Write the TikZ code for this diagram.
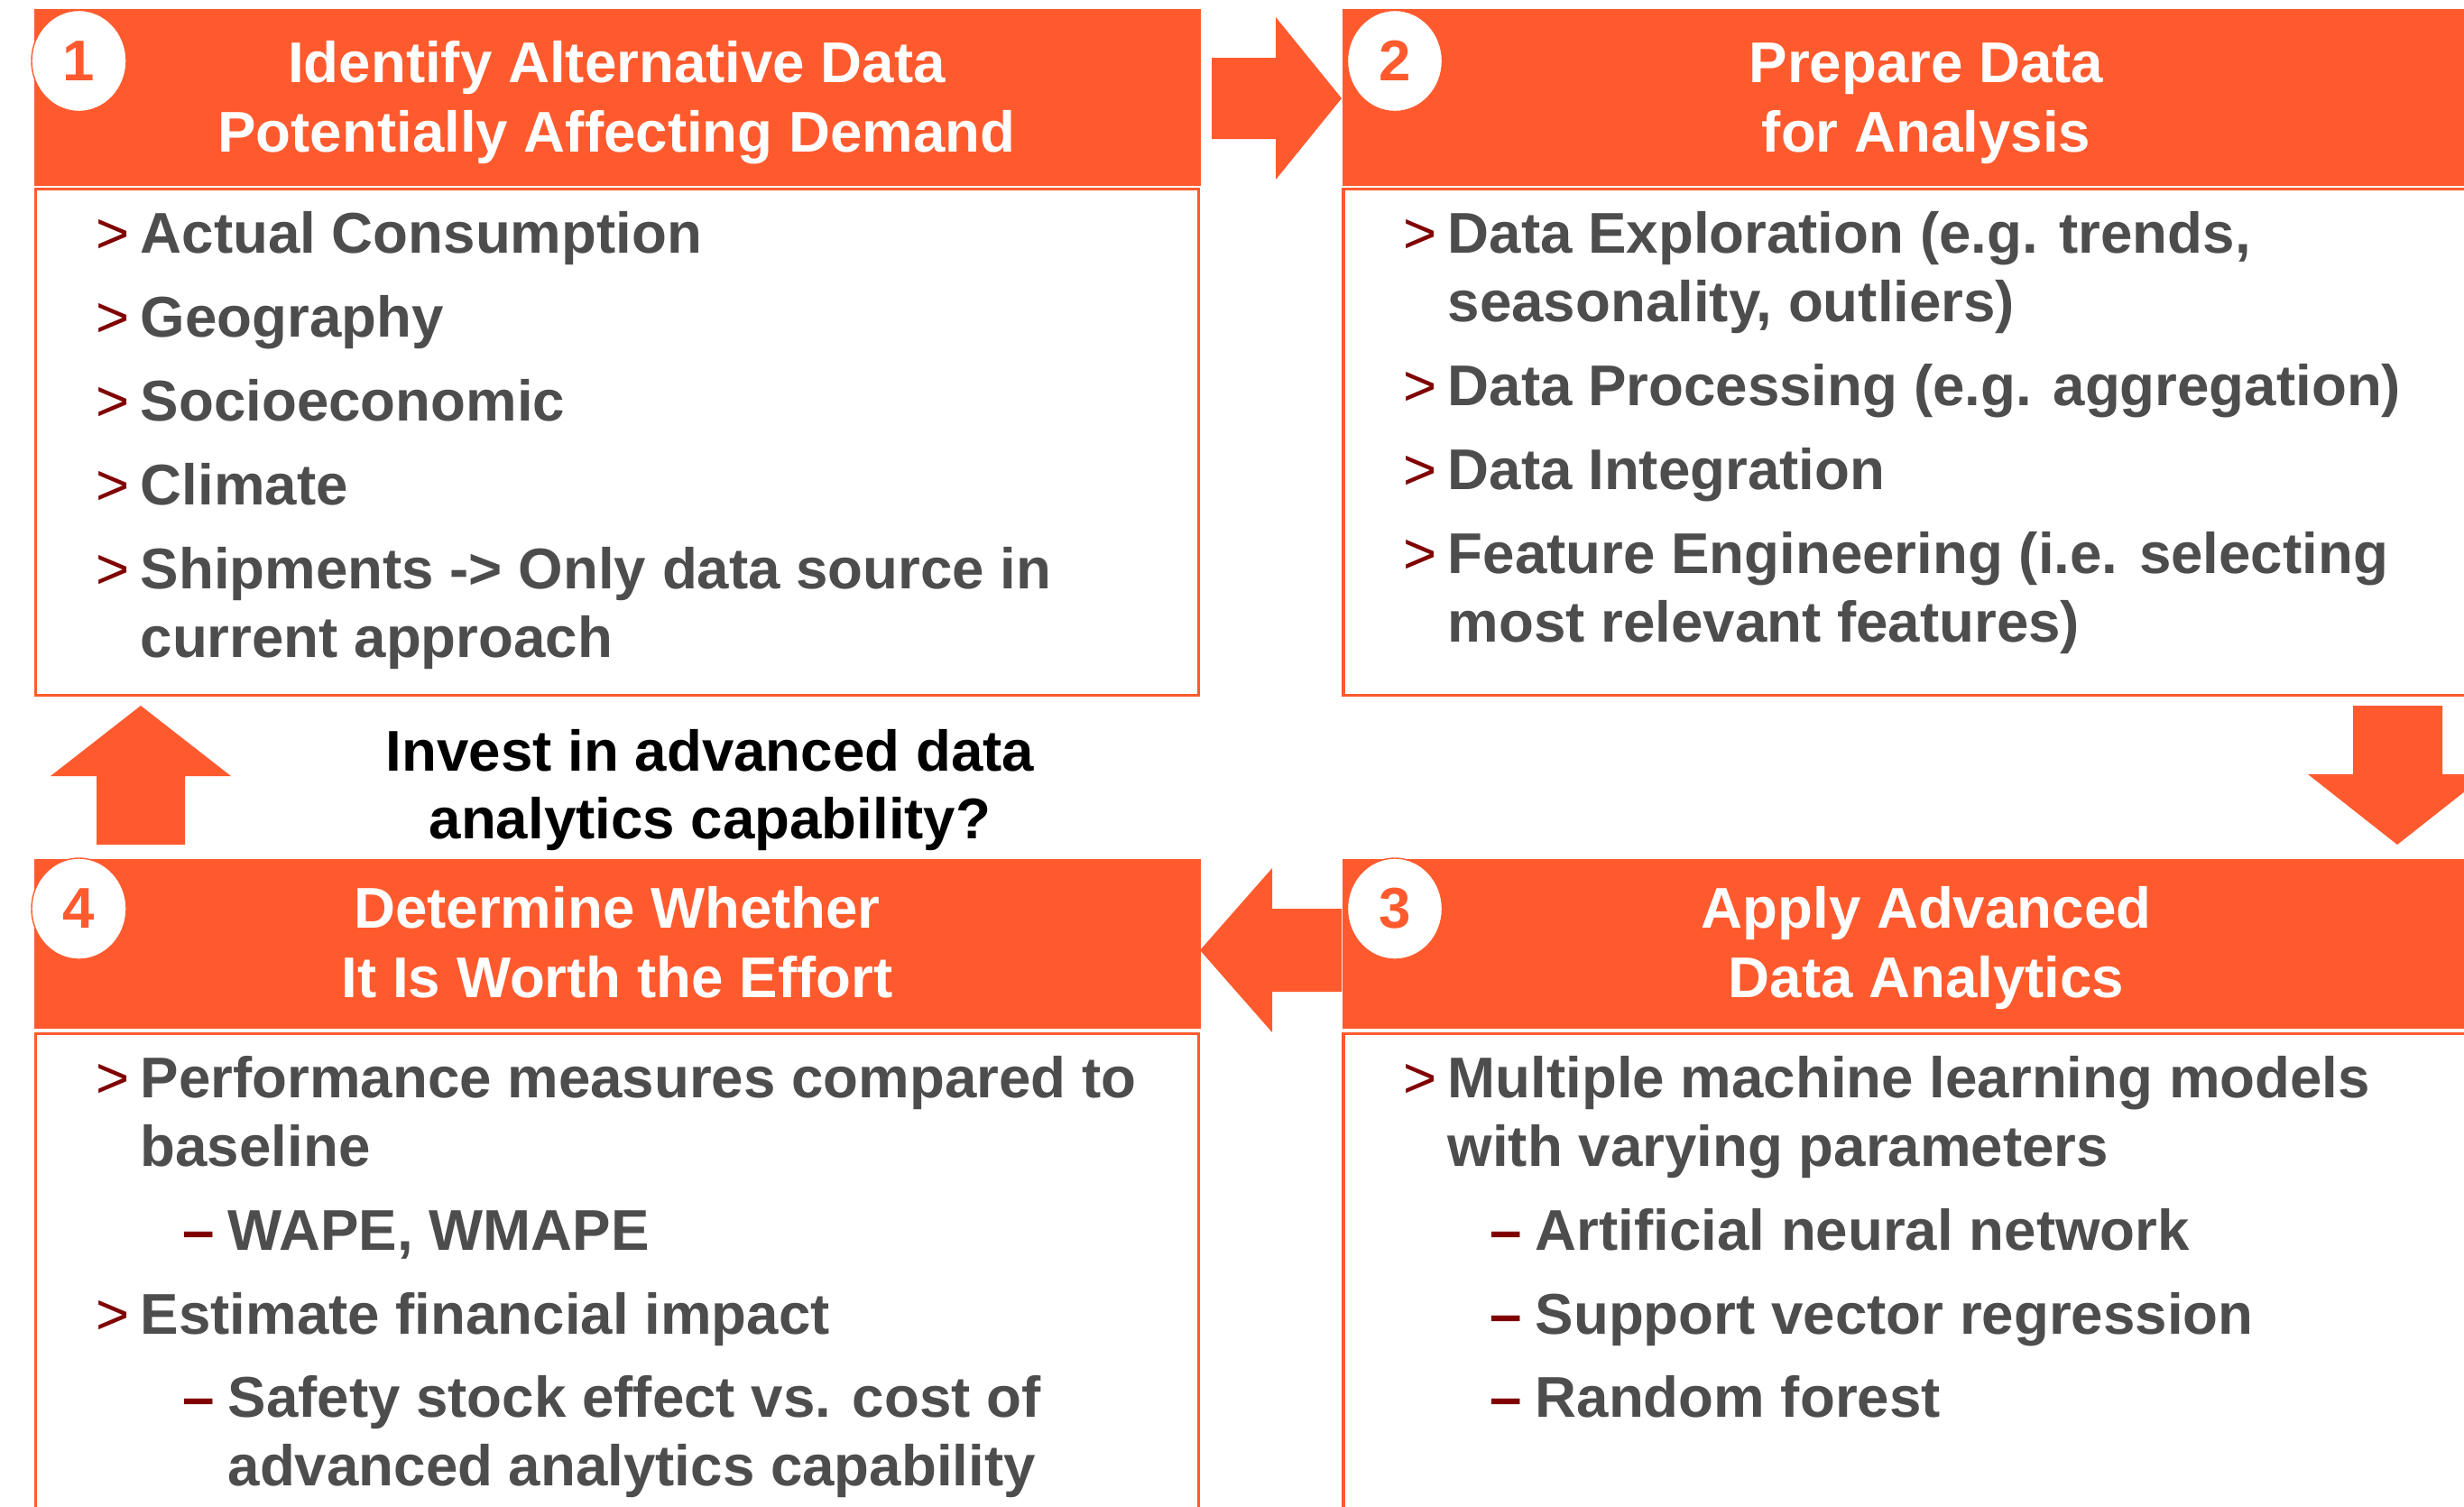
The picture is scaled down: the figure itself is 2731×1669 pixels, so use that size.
\documentclass[tikz,border=0pt]{standalone}
\usepackage{fontspec}
\setmainfont{Liberation Sans}
\usetikzlibrary{shapes.geometric}
\definecolor{org}{RGB}{255,90,46}
\definecolor{txtgray}{RGB}{77,77,77}
\definecolor{bulred}{RGB}{128,0,0}
\newcommand\bulA{\makebox[0.49cm][l]{\mdseries\color{bulred}>}}
\newcommand\bulB{\makebox[0.50cm][l]{\color{bulred}–}}
\newcommand\bigfont{\fontsize{18.1}{21.7}\selectfont\bfseries}
\begin{document}
\begin{tikzpicture}[x=0.01cm,y=-0.01cm,
  hdr/.style={fill=org,draw=none,inner sep=0pt,anchor=north west,minimum width=12.93cm},
  bodybox/.style={draw=org,line width=1pt,fill=white},
  numc/.style={ellipse,fill=white,draw=org,line width=0.4pt,minimum width=1.05cm,minimum height=1.12cm,inner sep=0pt,text=org,font=\bigfont},
  htxt/.style={anchor=base,inner sep=0pt,text=white,font=\bigfont},
  btxt/.style={anchor=base west,inner sep=0pt,text=txtgray,font=\bigfont},
  qtxt/.style={anchor=base,inner sep=0pt,text=black,font=\bigfont},
  blockarrow/.style={fill=org,draw=none}
]
\useasboundingbox (0,0) rectangle (2731,1669);
\clip (0,0) rectangle (2731,1669);

% headers
\node[hdr,minimum height=1.96cm] (h1) at (37,9) {};
\node[hdr,minimum height=1.96cm] (h2) at (1487,9) {};
\node[hdr,minimum height=1.88cm] (h4) at (37,951) {};
\node[hdr,minimum height=1.88cm] (h3) at (1487,951) {};

% bodies
\draw[bodybox] (39.7,209.7) rectangle (1328.3,770.3);
\draw[bodybox] (1489,209.7) rectangle (2800,770.3);
\draw[bodybox] (39.7,1145.7) rectangle (1328.3,1720);
\draw[bodybox] (1489,1145.7) rectangle (2800,1720);

% block arrows
\fill[blockarrow] (1343,64) -- (1414,64) -- (1414,19) -- (1487,109) -- (1414,199) -- (1414,154) -- (1343,154) -- cycle;
\fill[blockarrow] (2608,782) -- (2707,782) -- (2707,858) -- (2756,858) -- (2657,936) -- (2558,858) -- (2608,858) -- cycle;
\fill[blockarrow] (1487,1007) -- (1410,1007) -- (1410,962) -- (1330,1053) -- (1410,1144) -- (1410,1099) -- (1487,1099) -- cycle;
\fill[blockarrow] (107,936) -- (107,860) -- (56,860) -- (156,782) -- (256,860) -- (205,860) -- (205,936) -- cycle;

% number circles
\node[numc] (n1) at (87.5,67.5) {1};
\node[numc] (n2) at (1546,67.5) {2};
\node[numc] (n4) at (87.5,1007) {4};
\node[numc] (n3) at (1546,1007) {3};

% header texts
\node[htxt] (h1a) at (683.5,91) {Identify Alternative Data};
\node[htxt] (h1b) at (683.5,168) {Potentially Affecting Demand};
\node[htxt] (h2a) at (2135,91) {Prepare Data};
\node[htxt] (h2b) at (2135,168) {for Analysis};
\node[htxt] (h4a) at (684,1028) {Determine Whether};
\node[htxt] (h4b) at (684,1105) {It Is Worth the Effort};
\node[htxt] (h3a) at (2135,1028) {Apply Advanced};
\node[htxt] (h3b) at (2135,1105) {Data Analytics};

% question
\node[qtxt] (q1) at (787,854) {Invest in advanced data};
\node[qtxt] (q2) at (787,929) {analytics capability?};

% body 1
\node[btxt] (b1a) at (106,280) {\bulA Actual Consumption};
\node[btxt] (b1b) at (106,373) {\bulA Geography};
\node[btxt] (b1c) at (106,466) {\bulA Socioeconomic};
\node[btxt] (b1d) at (106,559) {\bulA Climate};
\node[btxt] (b1e) at (106,652) {\bulA Shipments -> Only data source in};
\node[btxt] (b1f) at (155,728) {current approach};

% body 2
\node[btxt] (b2a) at (1555,280) {\bulA Data Exploration (e.g. trends,};
\node[btxt] (b2b) at (1604,356) {seasonality, outliers)};
\node[btxt] (b2c) at (1555,449) {\bulA Data Processing (e.g. aggregation)};
\node[btxt] (b2d) at (1555,542) {\bulA Data Integration};
\node[btxt] (b2e) at (1555,635) {\bulA Feature Engineering (i.e. selecting};
\node[btxt] (b2f) at (1604,711) {most relevant features)};

% body 4
\node[btxt] (b4a) at (106,1216) {\bulA Performance measures compared to};
\node[btxt] (b4b) at (155,1292) {baseline};
\node[btxt] (b4c) at (202,1385) {\bulB WAPE, WMAPE};
\node[btxt] (b4d) at (106,1478) {\bulA Estimate financial impact};
\node[btxt] (b4e) at (202,1570) {\bulB Safety stock effect vs. cost of};
\node[btxt] (b4f) at (252,1646) {advanced analytics capability};

% body 3
\node[btxt] (b3a) at (1555,1216) {\bulA Multiple machine learning models};
\node[btxt] (b3b) at (1604,1292) {with varying parameters};
\node[btxt] (b3c) at (1651,1385) {\bulB Artificial neural network};
\node[btxt] (b3d) at (1651,1478) {\bulB Support vector regression};
\node[btxt] (b3e) at (1651,1570) {\bulB Random forest};
\end{tikzpicture}
\end{document}
